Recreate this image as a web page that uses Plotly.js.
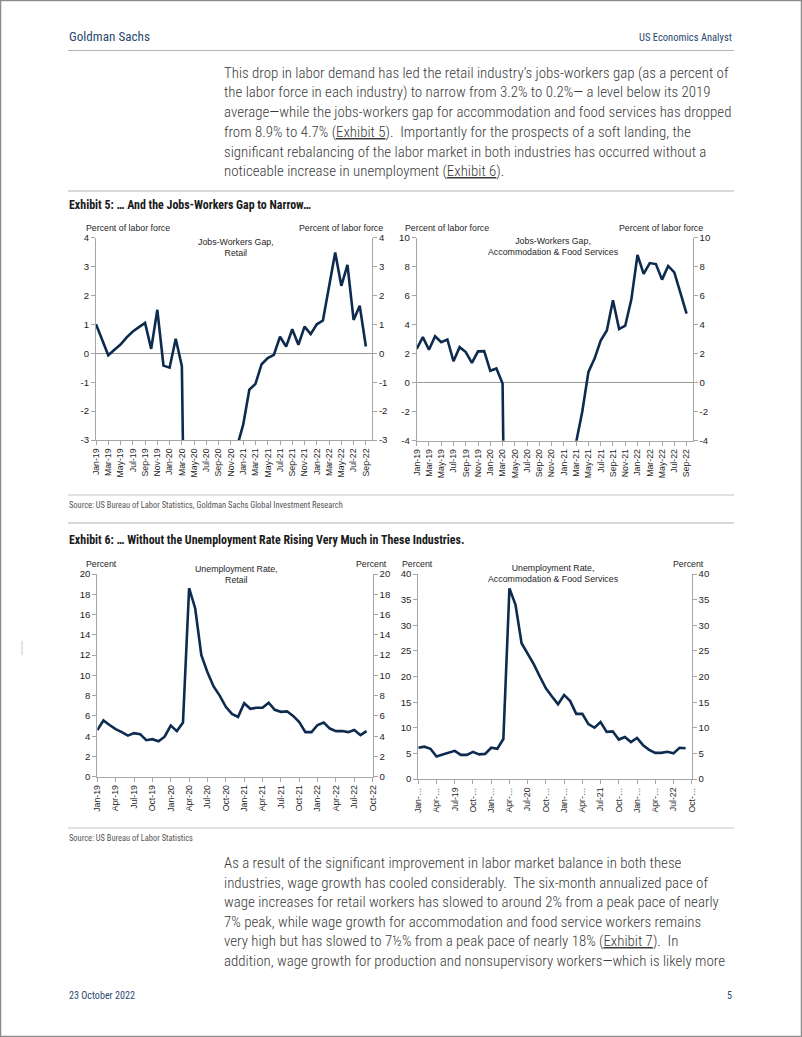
<!DOCTYPE html>
<html><head><meta charset="utf-8">
<script src="https://cdn.plot.ly/plotly-3.0.1.min.js"></script>
<style>html,body{margin:0;padding:0;background:#fff;}#chart{width:802px;height:1037px;}</style>
</head><body><div id="chart"></div>
<script>
// ---------- DATA ----------
const months = ["Jan-19","Feb-19","Mar-19","Apr-19","May-19","Jun-19","Jul-19","Aug-19","Sep-19","Oct-19","Nov-19","Dec-19",
"Jan-20","Feb-20","Mar-20","Apr-20","May-20","Jun-20","Jul-20","Aug-20","Sep-20","Oct-20","Nov-20","Dec-20",
"Jan-21","Feb-21","Mar-21","Apr-21","May-21","Jun-21","Jul-21","Aug-21","Sep-21","Oct-21","Nov-21","Dec-21",
"Jan-22","Feb-22","Mar-22","Apr-22","May-22","Jun-22","Jul-22","Aug-22","Sep-22","Oct-22"];
const gapTickLabels = ["Jan-19","Mar-19","May-19","Jul-19","Sep-19","Nov-19","Jan-20","Mar-20","May-20","Jul-20","Sep-20","Nov-20",
"Jan-21","Mar-21","May-21","Jul-21","Sep-21","Nov-21","Jan-22","Mar-22","May-22","Jul-22","Sep-22"];
const urTickLabels = ["Jan-19","Apr-19","Jul-19","Oct-19","Jan-20","Apr-20","Jul-20","Oct-20",
"Jan-21","Apr-21","Jul-21","Oct-21","Jan-22","Apr-22","Jul-22","Oct-22"];
const urTickLabelsAccom = ["Jan-…","Apr-…","Jul-19","Oct-…","Jan-…","Apr-…","Jul-20","Oct-…",
"Jan-…","Apr-…","Jul-21","Oct-…","Jan-…","Apr-…","Jul-22","Oct-…"];
// Jobs-workers gap, retail (% of labor force), Jan-19 .. Sep-22 (Apr-20..Dec-20 off the chart)
const gapRetail = [1.0,0.45,-0.07,0.12,0.3,0.55,0.75,0.9,1.05,0.15,1.5,-0.43,
-0.5,0.5,-0.45,-16,-12,-9,-8,-7,-6,-5,-4.2,-3.23,
-2.47,-1.26,-1.06,-0.38,-0.17,-0.06,0.57,0.23,0.83,0.29,0.92,0.66,
1.0,1.13,2.36,3.48,2.33,3.05,1.15,1.64,0.23];
// Jobs-workers gap, accommodation & food services, Jan-19 .. Sep-22 (Apr-20..Mar-21 off the chart)
const gapAccom = [2.33,3.14,2.27,3.2,2.8,2.98,1.48,2.45,2.11,1.36,2.16,2.18,
0.82,0.98,-0.05,-35,-30,-20,-17,-15,-14,-13,-14,-16,
-12,-8,-4.1,-1.98,0.75,1.66,2.9,3.6,5.68,3.7,3.93,5.75,
8.82,7.5,8.25,8.18,7.11,8.05,7.61,6.2,4.77];
// Unemployment rate, retail (%), Jan-19 .. Sep-22
const urRetail = [4.6,5.55,5.1,4.7,4.4,4.05,4.3,4.2,3.6,3.7,3.5,3.95,
5.05,4.5,5.35,18.6,16.6,12.0,10.3,8.9,8.0,6.9,6.2,5.9,
7.25,6.7,6.8,6.8,7.3,6.6,6.4,6.45,6.0,5.4,4.4,4.4,
5.1,5.35,4.75,4.5,4.5,4.4,4.6,4.1,4.5];
// Unemployment rate, accommodation & food services (%), Jan-19 .. Sep-22
const urAccom = [6.1,6.3,5.9,4.4,4.8,5.1,5.5,4.7,4.7,5.3,4.8,4.9,
6.1,5.9,7.8,37.2,34.0,26.5,24.5,22.4,20.0,17.7,16.1,14.6,
16.4,15.2,12.7,12.7,10.7,10.0,11.1,9.2,9.3,7.7,8.2,7.2,
8.0,6.6,5.7,5.1,5.1,5.3,5.0,6.1,6.0];

// ---------- FONTS ----------
const cctx=document.createElement('canvas').getContext('2d');
function tw(t,font){cctx.font=font;return cctx.measureText(t).width;}
function hasFont(f){const s='abcdefghijklmnopqrstuvwxyz ABCDEFGHIJKLM 0123456789';
  return tw(s,`20px "${f}", monospace`)!==tw(s,'20px monospace') || tw(s,`20px "${f}", serif`)!==tw(s,'20px serif');}
const narrowCands=['Roboto Condensed','Liberation Sans Narrow','DejaVu Sans Condensed','Arial Narrow','Noto Sans Condensed','Nimbus Sans Narrow','Open Sans Condensed','Roboto'];
let NF='Roboto'; for(const f of narrowCands){ if(hasFont(f)){NF=f;break;} }
const narrow=`"${NF}", Roboto, sans-serif`;
const strip=t=>t.replace(/<[^>]+>/g,'');
function fit(t,target,weight){ const w=tw(strip(t),`${weight||'normal'} 20px "${NF}"`); return 20*target/w; }

// ---------- HELPERS ----------
const W=802,H=1037;
const X=p=>p/W, Y=p=>1-p/H;
const NAVY='#0d2b4e', AX='#a6a6a6', TXT='#1e1e1e';
const sans='Liberation Sans, Arial, sans-serif';
const idx=n=>Array.from({length:n},(_,i)=>i);
const tickIdx=labels=>labels.map(l=>months.indexOf(l));
const seq=(a,b,s)=>{const r=[];for(let v=a;v<=b+1e-9;v+=s)r.push(+v.toFixed(6));return r;};

const traces=[];
function addChart(data,xa,ya,ya2){
  const xs=idx(data.length);
  traces.push({x:xs,y:data,xaxis:xa,yaxis:ya,type:'scatter',mode:'lines',
    line:{color:NAVY,width:2.6},hoverinfo:'skip',showlegend:false});
  traces.push({x:xs,y:data,xaxis:xa,yaxis:ya2,type:'scatter',mode:'lines',
    line:{color:'rgba(0,0,0,0)',width:0},hoverinfo:'skip',showlegend:false});
}
addChart(gapRetail,'x','y','y2');
addChart(gapAccom,'x2','y3','y4');
addChart(urRetail,'x3','y5','y6');
addChart(urAccom,'x4','y7','y8');

function xAxis(d,range,tv,tt,anchor){
  return {domain:d,range:range,anchor:anchor,tickmode:'array',tickvals:tv,ticktext:tt,
    tickangle:-90,tickfont:{family:sans,size:8.7,color:TXT},showline:true,linecolor:AX,linewidth:1,
    ticks:'outside',ticklen:4,tickcolor:AX,showgrid:false,zeroline:false,fixedrange:true};
}
function yTicks(a,b,s){const v=seq(a,b,s);return {tickmode:'array',tickvals:v,ticktext:v.map(x=>String(x))};}
function yAxis(d,range,step,anchor,zl){
  return Object.assign({domain:d,range:range,anchor:anchor,tickfont:{family:sans,size:9.6,color:TXT},
    showline:true,linecolor:AX,linewidth:1,ticks:'outside',ticklen:4,tickcolor:AX,showgrid:false,
    zeroline:zl,zerolinecolor:'#9a9a9a',zerolinewidth:1,fixedrange:true},yTicks(range[0],range[1],step));
}
function yAxisR(range,step,over,anchor){
  return Object.assign({range:range,overlaying:over,side:'right',anchor:anchor,
    tickfont:{family:sans,size:9.6,color:TXT},showline:true,linecolor:AX,linewidth:1,ticks:'outside',
    ticklen:4,tickcolor:AX,showgrid:false,zeroline:false,fixedrange:true},yTicks(range[0],range[1],step));
}

const layout={
  width:W,height:H,margin:{l:0,r:0,t:0,b:0},paper_bgcolor:'#fff',plot_bgcolor:'rgba(0,0,0,0)',showlegend:false,
  xaxis: xAxis([X(96),X(372)],[0,45],tickIdx(gapTickLabels),gapTickLabels,'y'),
  yaxis: yAxis([Y(440),Y(237.5)],[-3,4],1,'x',true),
  yaxis2: yAxisR([-3,4],1,'y','x'),
  xaxis2: xAxis([X(416.7),X(692.7)],[0,45],tickIdx(gapTickLabels),gapTickLabels,'y3'),
  yaxis3: yAxis([Y(440.7),Y(237.7)],[-4,10],2,'x2',true),
  yaxis4: yAxisR([-4,10],2,'y3','x2'),
  xaxis3: xAxis([X(97.3),X(372.7)],[0,45],tickIdx(urTickLabels),urTickLabels,'y5'),
  yaxis5: yAxis([Y(776.7),Y(574)],[0,20],2,'x3',false),
  yaxis6: yAxisR([0,20],2,'y5','x3'),
  xaxis4: xAxis([X(418.3),X(691.7)],[0,45],tickIdx(urTickLabels),urTickLabelsAccom,'y7'),
  yaxis7: yAxis([Y(779),Y(574)],[0,40],5,'x4',false),
  yaxis8: yAxisR([0,40],5,'y7','x4'),
  annotations:[],shapes:[]
};

function ann(text,x,y,opts){
  layout.annotations.push(Object.assign({text:text,x:X(x),y:Y(y),xref:'paper',yref:'paper',showarrow:false,
    xanchor:'left',yanchor:'middle',font:{family:sans,size:8.8,color:TXT},align:'left'},opts||{}));
}
function hline(y,x0,x1,color,w){
  layout.shapes.push({type:'line',xref:'paper',yref:'paper',x0:X(x0),x1:X(x1),y0:Y(y),y1:Y(y),
    line:{color:color||'#b0b0b0',width:w||1}});
}

// page frame + margin mark
layout.shapes.push({type:'rect',xref:'paper',yref:'paper',x0:X(0.5),x1:X(801.5),y0:Y(0.5),y1:Y(1036.5),
  line:{color:'#8c8c8c',width:1.5}});
layout.shapes.push({type:'line',xref:'paper',yref:'paper',x0:X(22),x1:X(22),y0:Y(641),y1:Y(655),
  line:{color:'#c8c8c8',width:1}});

// header / footer
const HEAD='#2b4a6f';
ann('Goldman Sachs',67,36,{font:{family:narrow,size:fit('Goldman Sachs',81),color:HEAD}});
ann('US Economics Analyst',734,37.7,{xanchor:'right',font:{family:narrow,size:fit('US Economics Analyst',93),color:HEAD}});
hline(50.5,68,734,'#b4b4b4',1.2);
const footSize=fit('23 October 2022',66);
ann('23 October 2022',67,995.3,{font:{family:narrow,size:footSize,color:HEAD}});
ann('5',734,995.3,{xanchor:'right',font:{family:narrow,size:footSize,color:HEAD}});

// body text
const BODY='#3a3a3a';
const U=t=>`<span style="text-decoration:underline">${t}</span>`;
const para1=[
 "This drop in labor demand has led the retail industry’s jobs-workers gap (as a percent of",
 "the labor force in each industry) to narrow from 3.2% to 0.2%— a level below its 2019",
 "average—while the jobs-workers gap for accommodation and food services has dropped",
 "from 8.9% to 4.7% ("+U("Exhibit 5")+").  Importantly for the prospects of a soft landing, the",
 "significant rebalancing of the labor market in both industries has occurred without a",
 "noticeable increase in unemployment ("+U("Exhibit 6")+")."];
const bodySize=fit(para1[0],505,300);
para1.forEach((t,i)=>ann(t,222,72.7+i*19.7,{font:{family:narrow,size:bodySize,color:BODY,weight:300}}));
const para2=[
 "As a result of the significant improvement in labor market balance in both these",
 "industries, wage growth has cooled considerably.  The six-month annualized pace of",
 "wage increases for retail workers has slowed to around 2% from a peak pace of nearly",
 "7% peak, while wage growth for accommodation and food service workers remains",
 "very high but has slowed to 7½% from a peak pace of nearly 18% ("+U("Exhibit 7")+").  In",
 "addition, wage growth for production and nonsupervisory workers—which is likely more"];
para2.forEach((t,i)=>ann(t,222,863.3+i*19.5,{font:{family:narrow,size:bodySize,color:BODY,weight:300}}));

// exhibit frames and titles
const ex5='<b>Exhibit 5: … And the Jobs-Workers Gap to Narrow…</b>';
const ex6='<b>Exhibit 6: … Without the Unemployment Rate Rising Very Much in These Industries.</b>';
const exSize=fit(ex6,396,'bold');
hline(191,68,734,'#b4b4b4',1.2);
ann(ex5,67,205,{font:{family:narrow,size:exSize,color:'#1a1a1a'}});
hline(495,68,734,'#c4c4c4',1);
const src2='Source: US Bureau of Labor Statistics';
const srcSize=fit(src2,124);
ann('Source: US Bureau of Labor Statistics, Goldman Sachs Global Investment Research',67,505.5,{font:{family:narrow,size:srcSize,color:'#555'}});
hline(523,68,734,'#b4b4b4',1.2);
ann(ex6,67,540,{font:{family:narrow,size:exSize,color:'#1a1a1a'}});
hline(828,68,734,'#c4c4c4',1);
ann(src2,67,838.3,{font:{family:narrow,size:srcSize,color:'#555'}});

// chart labels
const cf={family:sans,size:8.8,color:TXT};
ann('Percent of labor force',83.5,228.5,{font:cf});
ann('Percent of labor force',385,228.5,{xanchor:'right',font:cf});
ann('Jobs-Workers Gap,<br>Retail',236,247.5,{xanchor:'center',align:'center',font:cf});
ann('Percent of labor force',403,228.5,{font:cf});
ann('Percent of labor force',705,228.5,{xanchor:'right',font:cf});
ann('Jobs-Workers Gap,<br>Accommodation & Food Services',553,247,{xanchor:'center',align:'center',font:cf});
ann('Percent',102,564.3,{xanchor:'center',font:cf});
ann('Percent',371,564.3,{xanchor:'center',font:cf});
ann('Unemployment Rate,<br>Retail',236,574,{xanchor:'center',align:'center',font:cf});
ann('Percent',418,564.3,{xanchor:'center',font:cf});
ann('Percent',688,564.3,{xanchor:'center',font:cf});
ann('Unemployment Rate,<br>Accommodation & Food Services',553,573.5,{xanchor:'center',align:'center',font:cf});

Plotly.newPlot('chart',traces,layout,{staticPlot:true,displayModeBar:false});
</script></body></html>
